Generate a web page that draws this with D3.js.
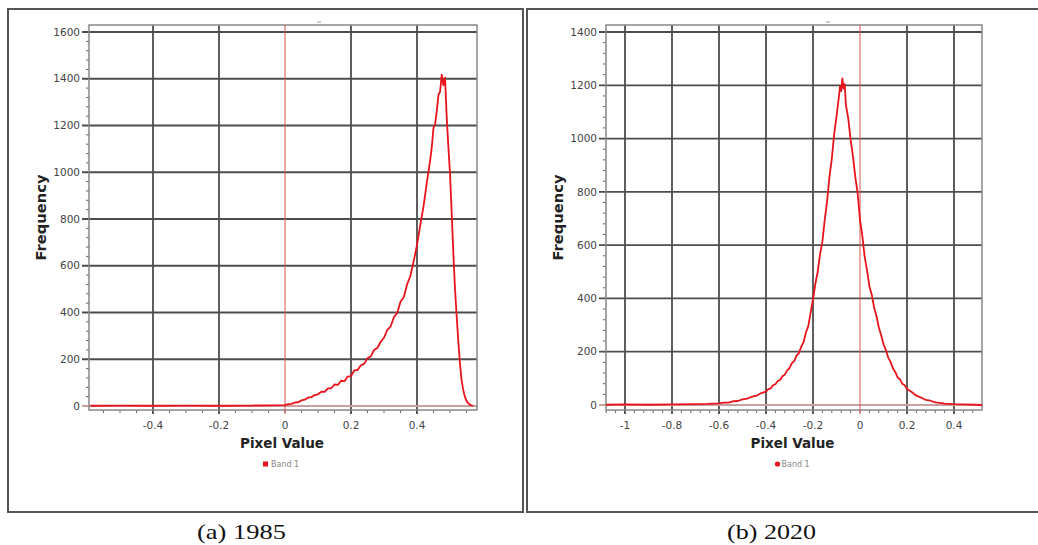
<!DOCTYPE html>
<html>
<head>
<meta charset="utf-8">
<script src="https://cdn.jsdelivr.net/npm/d3@7"></script>
<style>
body{margin:0;background:#fff;}
</style>
</head>
<body>
<div id="chart"></div>
<script>
// (a) 1985 - pixel value / frequency
var pixel1985=[-0.59,-0.5,-0.4,-0.3,-0.2,-0.1,-0.05,
  0,0.01,0.02,0.03,0.04,0.05,0.06,0.07,0.08,0.09,
  0.10,0.11,0.12,0.13,0.14,0.15,0.16,0.17,0.18,0.19,
  0.20,0.21,0.22,0.23,0.24,0.25,0.26,0.27,0.28,0.29,
  0.30,0.31,0.32,0.33,0.34,0.35,0.36,0.37,0.38,0.39,
  0.40,0.41,0.42,0.43,0.44,0.445,0.45,0.455,0.46,0.465,
  0.47,0.475,0.48,0.485,0.49,0.495,0.50,0.505,0.51,0.515,
  0.52,0.525,0.53,0.535,0.54,0.545,0.55,0.555,0.56,0.565,0.57]
var freq1985=[1,2,1,2,1,2,3,
  4,8,9,15,16,24,27,36,38,47,
  50,61,60,75,76,92,90,108,106,126,
  128,152,154,174,180,205,212,240,248,275,
  292,326,340,380,398,446,466,520,556,620,
  688,775,856,958,1052,1110,1190,1205,1262,1330,
  1345,1418,1372,1405,1236,1110,995,830,660,505,
  390,282,185,112,70,40,22,12,6,3,1]
var xTicks1985=[-0.4,-0.2,0,0.2,0.4]
var yTicks1985=[0,200,400,600,800,1000,1200,1400,1600]

// (b) 2020
var pixel2020=[-1.08,-1.0,-0.9,-0.8,-0.7,-0.65,
  -0.6,-0.58,-0.56,-0.54,-0.52,-0.50,-0.48,-0.46,-0.44,-0.42,
  -0.40,-0.39,-0.38,-0.37,-0.36,-0.35,-0.34,-0.33,-0.32,-0.31,
  -0.30,-0.29,-0.28,-0.27,-0.26,-0.25,-0.24,-0.23,-0.22,-0.21,
  -0.20,-0.19,-0.18,-0.17,-0.16,-0.15,-0.14,-0.13,-0.12,-0.11,
  -0.10,-0.09,-0.085,-0.08,-0.075,-0.07,-0.065,-0.06,-0.05,-0.04,
  -0.03,-0.02,-0.01,0,0.01,0.02,0.03,0.04,0.05,0.06,
  0.07,0.08,0.09,0.10,0.11,0.12,0.13,0.14,0.15,0.16,
  0.17,0.18,0.19,0.20,0.22,0.24,0.26,0.28,0.30,0.32,
  0.34,0.36,0.38,0.40,0.44,0.52]
var freq2020=[1,2,1,2,3,4,
  6,9,9,14,15,21,24,31,35,45,
  50,60,62,74,78,90,94,108,114,130,
  138,157,165,185,195,219,236,272,296,348,
  396,455,500,566,614,696,764,856,924,1016,
  1082,1156,1196,1178,1226,1188,1204,1126,1076,996,
  934,856,794,696,634,556,504,446,414,366,
  334,292,262,228,207,178,162,138,124,104,
  96,80,74,60,49,35,28,19,16,10,
  8,5,4,3,2,0]
var xTicks2020=[-1,-0.8,-0.6,-0.4,-0.2,0,0.2,0.4]
var yTicks2020=[0,200,400,600,800,1000,1200,1400]

var captions=["(a) 1985","(b) 2020"]
var legendName="Band 1"

var svg=d3.select("#chart")
      .append("svg")
      .attr("width",1038)
      .attr("height",545)
      .style("font-family","'DejaVu Sans',Verdana,sans-serif")

var red="#e8141b"

function drawpanel(p){
  var x=d3.scaleLinear().domain([0,0.4]).range(p.xr)
  var y=d3.scaleLinear().domain([0,p.yTicks[p.yTicks.length-1]]).range(p.yr)
  var g=svg.append("g")

  // outer frame
  g.append("rect")
    .attr("x",p.frame[0]).attr("y",p.frame[1])
    .attr("width",p.frame[2]-p.frame[0]).attr("height",p.frame[3]-p.frame[1])
    .attr("fill","none").attr("stroke","#555").attr("stroke-width",2)

  // little empty title mark
  g.append("line")
    .attr("x1",p.titleX-2).attr("x2",p.titleX+2).attr("y1",22).attr("y2",22)
    .attr("stroke","#999").attr("stroke-width",1)

  // minor ticks
  var xmin=x.invert(p.box[0]), xmax=x.invert(p.box[1])
  var xminor=d3.range(Math.ceil(xmin/p.xMinor-1e-6)*p.xMinor,xmax,p.xMinor)
  g.selectAll(".xminor").data(xminor).enter().append("line")
    .attr("x1",d=>x(d)).attr("x2",d=>x(d))
    .attr("y1",p.box[3]).attr("y2",p.box[3]+3)
    .attr("stroke","#666")
  var ymax=y.invert(p.box[2])
  var yminor=d3.range(0,ymax,40)
  g.selectAll(".yminor").data(yminor).enter().append("line")
    .attr("x1",p.box[0]-3).attr("x2",p.box[0])
    .attr("y1",d=>y(d)).attr("y2",d=>y(d))
    .attr("stroke","#666")

  // grid
  g.selectAll(".vgrid").data(p.xTicks.filter(d=>d!=0)).enter().append("line")
    .attr("x1",d=>x(d)).attr("x2",d=>x(d))
    .attr("y1",p.box[2]).attr("y2",p.box[3]+4)
    .attr("stroke","#4d4d4d").attr("stroke-width",1.8)
  g.selectAll(".hgrid").data(p.yTicks).enter().append("line")
    .attr("x1",p.box[0]-7).attr("x2",p.box[1])
    .attr("y1",d=>y(d)).attr("y2",d=>y(d))
    .attr("stroke",d=>d==0?"#c9a0a0":"#4d4d4d").attr("stroke-width",1.8)

  // plot box
  g.append("rect")
    .attr("x",p.box[0]).attr("y",p.box[2])
    .attr("width",p.box[1]-p.box[0]).attr("height",p.box[3]-p.box[2])
    .attr("fill","none").attr("stroke","#888").attr("stroke-width",1.5)

  // zero line
  g.append("line")
    .attr("x1",x(0)).attr("x2",x(0)).attr("y1",p.box[2]).attr("y2",p.box[3]+4)
    .attr("stroke","#d9534f").attr("stroke-width",1)

  // tick labels
  g.selectAll(".xlab").data(p.xTicks).enter().append("text")
    .attr("x",d=>x(d)).attr("y",p.box[3]+19)
    .attr("text-anchor","middle")
    .attr("font-size",10.5).attr("fill","#444")
    .text(d=>String(d))
  g.selectAll(".ylab").data(p.yTicks).enter().append("text")
    .attr("x",p.box[0]-9).attr("y",d=>y(d)).attr("dy","0.35em")
    .attr("text-anchor","end")
    .attr("font-size",10.5).attr("fill","#444")
    .text(d=>String(d))

  // axis titles
  g.append("text")
    .attr("transform","translate("+p.freqX+","+((p.box[2]+p.box[3])/2)+") rotate(-90)")
    .attr("text-anchor","middle").attr("font-weight","bold")
    .attr("font-size",14).attr("fill","#222")
    .attr("textLength",86).attr("lengthAdjust","spacingAndGlyphs")
    .text("Frequency")
  var cx=p.labelX
  g.append("text")
    .attr("x",cx).attr("y",448)
    .attr("text-anchor","middle").attr("font-weight","bold")
    .attr("font-size",14.5).attr("fill","#222")
    .attr("textLength",84).attr("lengthAdjust","spacingAndGlyphs")
    .text("Pixel Value")

  // legend
  if(p.roundKey){
    g.append("circle").attr("cx",cx-15).attr("cy",464).attr("r",2.6).attr("fill",red)
  }else{
    g.append("rect").attr("x",cx-19).attr("y",461.5).attr("width",5).attr("height",5).attr("fill",red)
  }
  g.append("text")
    .attr("x",cx-11).attr("y",467)
    .attr("font-size",8).attr("fill","#888")
    .text(legendName)

  // curve
  var pts=p.px.map((d,i)=>[d,p.fq[i]])
  var line=d3.line().x(d=>x(d[0])).y(d=>y(d[1]))
  g.append("path")
    .attr("d",line(pts))
    .attr("fill","none")
    .attr("stroke",red).attr("stroke-width",1.8)
    .attr("stroke-linejoin","round")

  // caption
  g.append("text")
    .attr("x",p.capX).attr("y",539)
    .attr("text-anchor","middle")
    .attr("font-family","'Liberation Serif','Times New Roman',serif")
    .attr("font-size",21).attr("fill","#111")
    .attr("textLength",89).attr("lengthAdjust","spacingAndGlyphs")
    .text(p.caption)
}

drawpanel({frame:[8,9,523,512],box:[89,477,25,410],xr:[285,417],yr:[406,32],
  xTicks:xTicks1985,yTicks:yTicks1985,xMinor:0.05,px:pixel1985,fq:freq1985,
  freqX:46,labelX:282,capX:241.5,titleX:319,caption:captions[0],roundKey:false})

drawpanel({frame:[527,9,1045,512],box:[606,982,25,410],xr:[860,954],yr:[405,32],
  xTicks:xTicks2020,yTicks:yTicks2020,xMinor:0.04,px:pixel2020,fq:freq2020,
  freqX:563,labelX:792.5,capX:771.5,titleX:828,caption:captions[1],roundKey:true})
</script>
</body>
</html>
